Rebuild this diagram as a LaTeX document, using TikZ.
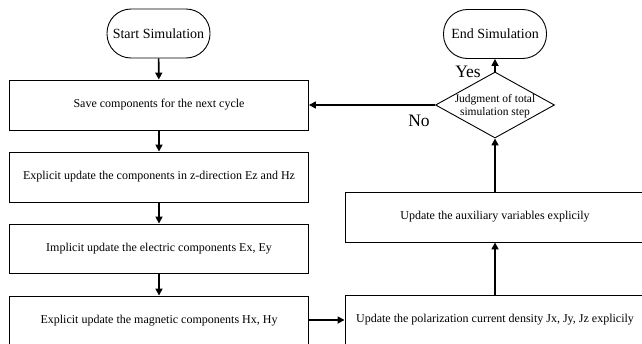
\documentclass[tikz,border=0pt]{standalone}
\usepackage{fontspec}
\setmainfont{Liberation Serif}
\usetikzlibrary{arrows.meta,shapes.geometric}
\tikzset{
  procbox/.style={draw, line width=0.9pt, inner sep=0pt, font=\fontsize{12}{14}\selectfont},
  termbox/.style={draw, line width=0.9pt, rounded corners=24pt, minimum width=103pt, minimum height=49pt, inner sep=0pt, font=\fontsize{14}{16}\selectfont},
  judgebox/.style={draw, diamond, line width=0.9pt, minimum width=119pt, minimum height=66pt, inner sep=0pt},
  flow/.style={line width=1.6pt, -{Triangle[length=7pt,width=7pt]}},
  answer/.style={font=\fontsize{17.5}{19}\selectfont, inner sep=0pt}
}
\begin{document}
\begin{tikzpicture}[x=1pt,y=-1pt]
\clip (0,0) rectangle (642,343);
% left column
\node[termbox] (start) at (158.5,33.5) {Start Simulation};
\node[procbox, minimum width=299pt, minimum height=50pt] (save) at (159,105) {Save components for the next cycle};
\node[procbox, minimum width=299pt, minimum height=50pt] (ezhz) at (159,177) {Explicit update the components in z-direction Ez and Hz};
\node[procbox, minimum width=299pt, minimum height=49pt] (exey) at (159,248.5) {Implicit update the electric components Ex, Ey};
\node[procbox, minimum width=299pt, minimum height=50pt] (hxhy) at (159,321) {Explicit update the magnetic components Hx, Hy};
% right column
\node[termbox] (end) at (495,34) {End Simulation};
\node[judgebox] (judge) at (495,105) {};
\node[font=\fontsize{11.5}{13.5}\selectfont, align=center, inner sep=0pt] (judgetext) at (495,106) {Judgment of total\\simulation step};
\node[procbox, minimum width=300pt, minimum height=50pt] (aux) at (495,217) {Update the auxiliary variables explicily};
\node[procbox, minimum width=300pt, minimum height=50pt] (pol) at (495,320) {Update the polarization current density Jx, Jy, Jz explicily};
% connectors
\draw[flow] (start) -- (save);
\draw[flow] (save) -- (ezhz);
\draw[flow] (ezhz) -- (exey);
\draw[flow] (exey) -- (hxhy);
\draw[flow] (hxhy.east |- pol.west) -- (pol.west);
\draw[flow] (pol) -- (aux);
\draw[flow] (aux) -- (judge);
\draw[flow] (judge.west) -- (save.east |- judge.west);
\draw[flow] (judge.north) -- (end.south);
\node[answer] (yes) at (468,72) {Yes};
\node[answer] (no) at (419,121) {No};
\end{tikzpicture}
\end{document}
